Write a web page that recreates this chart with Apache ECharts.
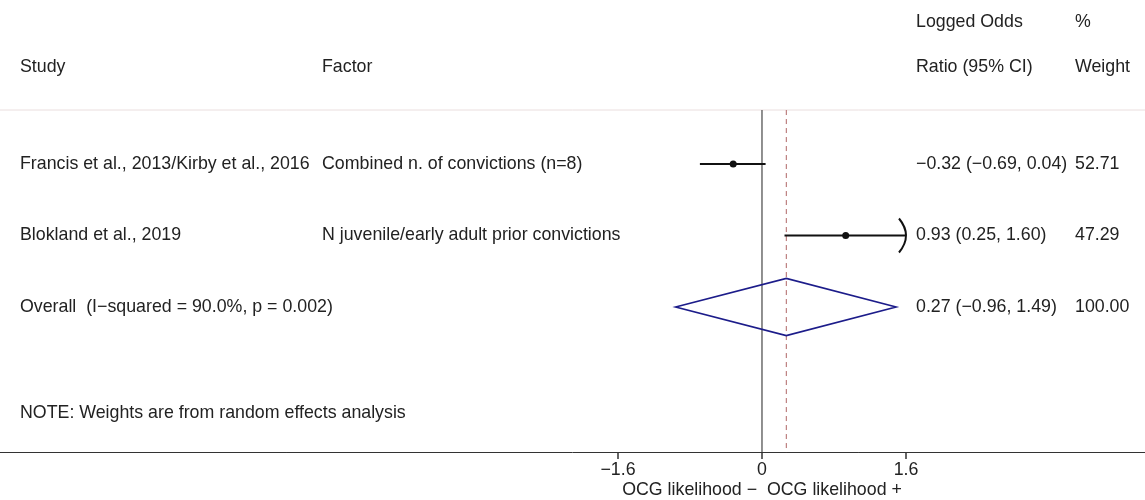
<!DOCTYPE html>
<html>
<head>
<meta charset="utf-8">
<script src="https://cdn.jsdelivr.net/npm/echarts@6/dist/echarts.min.js"></script>
<style>
html, body { margin: 0; padding: 0; background: #fff; }
#main { width: 1145px; height: 500px; }
</style>
</head>
<body>
<div id="main"></div>
<script>
// study rows
var studies = ['Francis et al., 2013/Kirby et al., 2016', 'Blokland et al., 2019'];
var factors = ['Combined n. of convictions (n=8)', 'N juvenile/early adult prior convictions'];
var estimates = [-0.32, 0.93];
var lowerCI = [-0.69, 0.25];
var upperCI = [0.04, 1.60];
var weights = ['52.71', '47.29'];
// pooled estimate
var overallLabel = 'Overall  (I\u2212squared = 90.0%, p = 0.002)';
var overallEst = 0.27;
var overallLow = -0.96;
var overallHigh = 1.49;
var overallWeight = '100.00';
// x axis ticks
var xTicks = [-1.6, 0, 1.6];

var FONT = '"Liberation Sans", Arial, sans-serif';
var FS = 17.8;
var TXT = '#222';
var COL_STUDY = 20, COL_FACTOR = 322, COL_RATIO = 916, COL_WEIGHT = 1075;
var ROW_TOP = 0.245, ROW_BOTTOM = 5.03;

function fmt(v) {
	return (v < 0 ? '\u2212' : '') + Math.abs(v).toFixed(2);
}
function ratioText(e, l, h) {
	return fmt(e) + ' (' + fmt(l) + ', ' + fmt(h) + ')';
}
function txt(s, x, y) {
	return {
		type: 'text',
		style: { text: s, x: x, y: y, fill: TXT, fontSize: FS, fontFamily: FONT, verticalAlign: 'middle', align: 'left' }
	};
}

var clipMax = xTicks[xTicks.length - 1];
var rowData = studies.map(function(s, i) { return [estimates[i], i + 1]; });

var chart = echarts.init(document.getElementById('main'));
var option = {
	animation: false,
	grid: { left: 0, right: 0, top: 0, bottom: 48 },
	xAxis: {
		type: 'value',
		min: -8.4667,
		max: 4.2556,
		splitLine: { show: false },
		axisLine: { show: true, onZero: false, lineStyle: { color: '#333', width: 1 } },
		axisTick: { show: true, customValues: xTicks, length: 7, lineStyle: { color: '#333', width: 1.5 } },
		axisLabel: {
			customValues: xTicks,
			fontSize: FS,
			color: '#222',
			fontFamily: FONT,
			margin: 9,
			formatter: function(v) { return v < 0 ? '\u2212' + Math.abs(v) : String(v); }
		}
	},
	yAxis: { type: 'value', inverse: true, min: -1.294, max: 5.028, show: false },
	graphic: [
		{ type: 'line', shape: { x1: 0, y1: 110, x2: 1145, y2: 110 }, style: { stroke: '#eadede', lineWidth: 1 }, silent: true },
		txt('Study', COL_STUDY, 67),
		txt('Factor', COL_FACTOR, 67),
		txt('Logged Odds', COL_RATIO, 22),
		txt('Ratio (95% CI)', COL_RATIO, 67),
		txt('%', COL_WEIGHT, 22),
		txt('Weight', COL_WEIGHT, 67),
		txt('NOTE: Weights are from random effects analysis', COL_STUDY, 413),
		{
			type: 'text',
			style: { text: 'OCG likelihood \u2212  OCG likelihood +', x: 762, y: 490, fill: TXT, fontSize: FS, fontFamily: FONT, align: 'center', verticalAlign: 'middle' }
		}
	],
	series: [
		{
			// reference lines: null effect and pooled estimate
			type: 'custom',
			silent: true,
			data: [[overallEst, 0]],
			renderItem: function(params, api) {
				var z1 = api.coord([0, ROW_TOP]), z2 = api.coord([0, ROW_BOTTOM]);
				var d1 = api.coord([overallEst, ROW_TOP]), d2 = api.coord([overallEst, ROW_BOTTOM]);
				return {
					type: 'group',
					children: [
						{ type: 'line', shape: { x1: z1[0], y1: z1[1], x2: z2[0], y2: z2[1] }, style: { stroke: '#222', lineWidth: 1 } },
						{ type: 'line', shape: { x1: d1[0], y1: d1[1], x2: d2[0], y2: d2[1] }, style: { stroke: '#b06666', lineWidth: 1, lineDash: [5, 4] } }
					]
				};
			}
		},
		{
			// study estimates with CI
			type: 'custom',
			silent: true,
			data: rowData,
			renderItem: function(params, api) {
				var i = params.dataIndex;
				var r = i + 1;
				var hi = Math.min(upperCI[i], clipMax);
				var pL = api.coord([lowerCI[i], r]);
				var pH = api.coord([hi, r]);
				var pE = api.coord([estimates[i], r]);
				var y = pE[1];
				var children = [
					{ type: 'line', shape: { x1: pL[0], y1: y, x2: pH[0], y2: y }, style: { stroke: '#111', lineWidth: 2 } },
					{ type: 'circle', shape: { cx: pE[0], cy: y, r: 3.5 }, style: { fill: '#111' } },
					txt(studies[i], COL_STUDY, y),
					txt(factors[i], COL_FACTOR, y),
					txt(ratioText(estimates[i], lowerCI[i], upperCI[i]), COL_RATIO, y),
					txt(weights[i], COL_WEIGHT, y)
				];
				if (upperCI[i] >= clipMax) {
					children.push({
						type: 'bezierCurve',
						shape: { x1: pH[0] - 7, y1: y - 17, x2: pH[0] - 7, y2: y + 17, cpx1: pH[0] + 7, cpy1: y },
						style: { stroke: '#111', lineWidth: 2, fill: null }
					});
				}
				return { type: 'group', children: children };
			}
		},
		{
			// pooled diamond
			type: 'custom',
			silent: true,
			data: [[overallEst, 3]],
			renderItem: function(params, api) {
				var r = 3;
				var c = api.coord([overallEst, r]);
				var top = api.coord([overallEst, r - 0.4]);
				var bot = api.coord([overallEst, r + 0.4]);
				var l = api.coord([overallLow, r]);
				var h = api.coord([overallHigh, r]);
				return {
					type: 'group',
					children: [
						{
							type: 'polygon',
							shape: { points: [[l[0], c[1]], [top[0], top[1]], [h[0], c[1]], [bot[0], bot[1]]] },
							style: { fill: null, stroke: '#1c1c8a', lineWidth: 1.6 }
						},
						txt(overallLabel, COL_STUDY, c[1]),
						txt(ratioText(overallEst, overallLow, overallHigh), COL_RATIO, c[1]),
						txt(overallWeight, COL_WEIGHT, c[1])
					]
				};
			}
		}
	]
};
chart.setOption(option);
</script>
</body>
</html>
